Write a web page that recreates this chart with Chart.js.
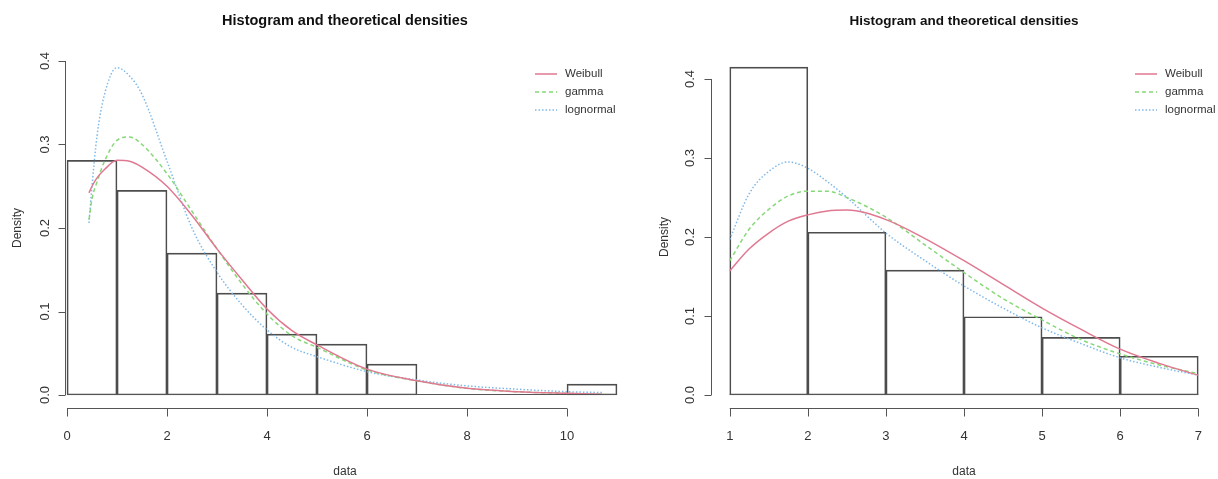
<!DOCTYPE html>
<html>
<head>
<meta charset="utf-8">
<script src="https://cdn.jsdelivr.net/npm/chart.js@4"></script>
<style>
    body { margin: 0; background: #fff; }
    #wrap { position: relative; width: 1218px; height: 479px; overflow: hidden; }
    #left { position: absolute; left: 0; top: 0; }
    #right { position: absolute; left: 645px; top: 0; }
</style>
</head>
<body>
<div id="wrap">
    <canvas id="left" width="645" height="479"></canvas>
    <canvas id="right" width="573" height="479"></canvas>
</div>
<script>
// Left panel: histogram (bin centres, densities) and fitted curves
const leftBins = [0.5, 1.5, 2.5, 3.5, 4.5, 5.5, 6.5, 7.5, 8.5, 9.5, 10.5];
const leftDensity = [0.281, 0.245, 0.170, 0.122, 0.073, 0.061, 0.037, 0, 0, 0, 0.013];
const leftCurveX = [0.44, 0.5, 0.6, 0.75, 1.0, 1.25, 1.5, 2.0, 2.5, 3.0, 3.5, 4.0, 4.5, 5.0, 6, 7, 8, 9, 10, 10.7];
const leftWeibull = [0.242, 0.25, 0.26, 0.27, 0.281, 0.28, 0.273, 0.25, 0.215, 0.175, 0.138, 0.103, 0.077, 0.06, 0.031, 0.017, 0.008, 0.004, 0.002, 0.001];
const leftGamma = [0.21, 0.235, 0.255, 0.28, 0.305, 0.309, 0.3, 0.265, 0.22, 0.175, 0.133, 0.097, 0.071, 0.057, 0.03, 0.017, 0.008, 0.004, 0.002, 0.001];
const leftLognormal = [0.206, 0.25, 0.31, 0.36, 0.392, 0.382, 0.36, 0.28, 0.2, 0.147, 0.108, 0.078, 0.057, 0.046, 0.028, 0.018, 0.011, 0.007, 0.004, 0.003];
const leftXTicks = [0, 2, 4, 6, 8, 10];

// Right panel
const rightBins = [1.5, 2.5, 3.5, 4.5, 5.5, 6.5];
const rightDensity = [0.415, 0.206, 0.158, 0.099, 0.073, 0.049];
const rightCurveX = [1.0, 1.25, 1.5, 1.75, 2.0, 2.25, 2.5, 3.0, 3.5, 4.0, 4.5, 5.0, 5.5, 6.0, 6.5, 7.0];
const rightWeibull = [0.157, 0.185, 0.205, 0.22, 0.228, 0.233, 0.234, 0.222, 0.198, 0.17, 0.14, 0.11, 0.083, 0.058, 0.04, 0.025];
const rightGamma = [0.17, 0.21, 0.235, 0.252, 0.258, 0.258, 0.25, 0.225, 0.19, 0.155, 0.122, 0.095, 0.07, 0.052, 0.038, 0.027];
const rightLognormal = [0.197, 0.255, 0.283, 0.295, 0.287, 0.27, 0.25, 0.205, 0.17, 0.138, 0.11, 0.085, 0.065, 0.047, 0.035, 0.025];
const rightXTicks = [1, 2, 3, 4, 5, 6, 7];

const yTicks = [0.0, 0.1, 0.2, 0.3, 0.4];
const fitNames = ['Weibull', 'gamma', 'lognormal'];
const fitColors = ['#e07891', '#86d878', '#7fb9ea'];
const fitDash = [[], [4, 3], [1.5, 2]];

const FONT = '"Liberation Sans", Arial, sans-serif';

function pts(xs, ys) {
    return xs.map((x, i) => ({ x: x, y: ys[i] }));
}

// draws the R-style axes, title and legend from the chart scales
const rStyle = {
    id: 'rStyle',
    afterDatasetsDraw(chart, args, o) {
        // baseline under the histogram (covers the empty bins too)
        const ctx = chart.ctx;
        const xs = chart.scales.x, ys = chart.scales.y;
        const bins = chart.data.datasets[0].data;
        const half = (bins[1].x - bins[0].x) / 2;
        const by = Math.round(ys.getPixelForValue(0)) - 0.5;
        ctx.save();
        ctx.strokeStyle = '#555';
        ctx.lineWidth = 1;
        ctx.beginPath();
        ctx.moveTo(xs.getPixelForValue(bins[0].x - half), by);
        ctx.lineTo(xs.getPixelForValue(bins[bins.length - 1].x + half), by);
        ctx.stroke();
        ctx.restore();
    },
    afterDraw(chart, args, o) {
        const ctx = chart.ctx;
        const xs = chart.scales.x, ys = chart.scales.y;
        const area = chart.chartArea;
        ctx.save();
        ctx.strokeStyle = '#555';
        ctx.lineWidth = 1;
        ctx.fillStyle = '#333';

        // x axis
        const xb = Math.round(area.bottom) + 0.5;
        const x0 = xs.getPixelForValue(o.xTicks[0]);
        const x1 = xs.getPixelForValue(o.xTicks[o.xTicks.length - 1]);
        ctx.beginPath();
        ctx.moveTo(x0, xb); ctx.lineTo(x1, xb);
        o.xTicks.forEach(t => {
            const px = Math.round(xs.getPixelForValue(t)) + 0.5;
            ctx.moveTo(px, xb); ctx.lineTo(px, xb + 8);
        });
        ctx.stroke();
        ctx.font = '13px ' + FONT;
        ctx.textAlign = 'center';
        ctx.textBaseline = 'middle';
        o.xTicks.forEach(t => ctx.fillText(String(t), xs.getPixelForValue(t), 436));

        // y axis
        const yl = Math.round(area.left) + 0.5;
        ctx.beginPath();
        ctx.moveTo(yl, ys.getPixelForValue(yTicks[0]));
        ctx.lineTo(yl, ys.getPixelForValue(yTicks[yTicks.length - 1]));
        yTicks.forEach(t => {
            const py = Math.round(ys.getPixelForValue(t)) + 0.5;
            ctx.moveTo(yl, py); ctx.lineTo(yl - 7, py);
        });
        ctx.stroke();
        yTicks.forEach(t => {
            ctx.save();
            ctx.translate(o.yLabelX, ys.getPixelForValue(t));
            ctx.rotate(-Math.PI / 2);
            ctx.fillText(t.toFixed(1), 0, 0);
            ctx.restore();
        });

        // axis titles
        ctx.font = '12px ' + FONT;
        ctx.save();
        ctx.translate(o.yTitleX, (ys.getPixelForValue(0) + ys.getPixelForValue(0.4)) / 2);
        ctx.rotate(-Math.PI / 2);
        ctx.fillText('Density', 0, 0);
        ctx.restore();
        ctx.fillText('data', o.titleX, 472);

        // main title
        ctx.fillStyle = '#111';
        ctx.font = 'bold ' + o.titleSize + 'px ' + FONT;
        ctx.fillText('Histogram and theoretical densities', o.titleX, 21);

        // legend (no box)
        ctx.font = '11.5px ' + FONT;
        ctx.textAlign = 'left';
        chart.data.datasets.slice(1).forEach((ds, i) => {
            const ly = 74 + i * 18;
            ctx.strokeStyle = ds.borderColor;
            ctx.lineWidth = 1.5;
            ctx.setLineDash(ds.borderDash);
            ctx.beginPath();
            ctx.moveTo(o.legendX, ly); ctx.lineTo(o.legendX + 22, ly);
            ctx.stroke();
            ctx.setLineDash([]);
            ctx.fillStyle = '#333';
            ctx.fillText(ds.label, o.legendX + 30, ly);
        });
        ctx.restore();
    }
};

function makeChart(id, bins, density, curveX, curves, xTicks, xMin, xMax, yMin, yMax, pad, opts) {
    const datasets = [{
        type: 'bar',
        label: 'histogram',
        data: pts(bins, density),
        backgroundColor: 'rgba(255,255,255,0)',
        borderColor: '#4d4d4d',
        borderWidth: 1,
        borderSkipped: false,
        barPercentage: 1,
        categoryPercentage: 1,
        order: 2
    }];
    curves.forEach((c, i) => {
        datasets.push({
            type: 'line',
            label: fitNames[i],
            data: pts(curveX, c),
            borderColor: fitColors[i],
            borderWidth: 1.5,
            borderDash: fitDash[i],
            pointRadius: 0,
            cubicInterpolationMode: 'monotone',
            fill: false,
            order: 1
        });
    });
    opts.xTicks = xTicks;
    return new Chart(document.getElementById(id), {
        data: { datasets: datasets },
        options: {
            responsive: false,
            animation: false,
            layout: { padding: pad },
            plugins: {
                legend: { display: false },
                tooltip: { enabled: false },
                rStyle: opts
            },
            scales: {
                x: { type: 'linear', min: xMin, max: xMax, offset: false, display: false },
                y: { type: 'linear', min: yMin, max: yMax, display: false }
            }
        },
        plugins: [rStyle]
    });
}

makeChart('left', leftBins, leftDensity, leftCurveX, [leftWeibull, leftGamma, leftLognormal],
    leftXTicks, -0.04, 11.5, -0.016, 0.41,
    { left: 65, right: 3, top: 52.6, bottom: 70.6 },
    { yLabelX: 45, yTitleX: 18, titleX: 345, legendX: 535, titleSize: 14.5 });

makeChart('right', rightBins, rightDensity, rightCurveX, [rightWeibull, rightGamma, rightLognormal],
    rightXTicks, 0.76, 7.24, -0.0166, 0.4316,
    { left: 66, right: 1, top: 54, bottom: 70.9 },
    { yLabelX: 45, yTitleX: 20, titleX: 319, legendX: 490, titleSize: 13.5 });
</script>
</body>
</html>
